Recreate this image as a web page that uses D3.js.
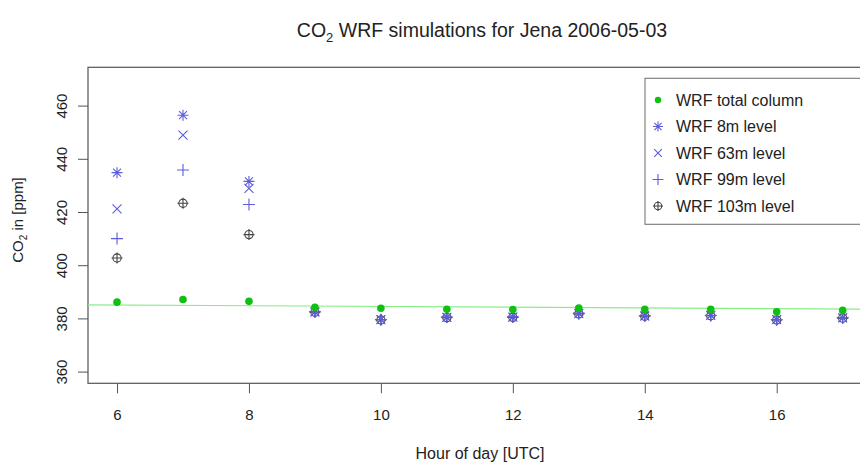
<!DOCTYPE html>
<html>
<head>
<meta charset="utf-8">
<script src="https://cdn.jsdelivr.net/npm/d3@7"></script>
<style>
  body { margin: 0; background: #fff; }
  svg { display: block; }
  text { font-family: "Liberation Sans", Arial, sans-serif; fill: #222; }
</style>
</head>
<body>
<svg id="chart" width="860" height="464"></svg>
<script>
// ---- data ----
const hours = [6, 7, 8, 9, 10, 11, 12, 13, 14, 15, 16, 17];
const totalColumn = [386.1, 387.1, 386.4, 384.2, 383.8, 383.4, 383.3, 383.9, 383.4, 383.4, 382.5, 383.0];
const level8m   = [434.8, 456.4, 431.5, 382.6, 379.6, 380.5, 380.6, 382.0, 381.1, 381.2, 379.6, 380.3];
const level63m  = [421.2, 448.9, 428.9, 382.4, 379.5, 380.4, 380.5, 381.8, 380.9, 381.1, 379.5, 380.2];
const level99m  = [410.0, 435.8, 422.8, 382.5, 379.6, 380.5, 380.5, 381.9, 381.0, 381.1, 379.5, 380.3];
const level103m = [402.7, 423.3, 411.5, 382.3, 379.4, 380.3, 380.4, 381.7, 380.8, 381.0, 379.4, 380.1];
const fitHours  = [5.56, 17.44];
const fitValues = [385.1, 383.45];
const xTicks = [6, 8, 10, 12, 14, 16];
const yTicks = [360, 380, 400, 420, 440, 460];
const legendLabels = ["WRF total column", "WRF 8m level", "WRF 63m level", "WRF 99m level", "WRF 103m level"];

(function () {
// ---- layout ----
const svg = d3.select("#chart");
const pLeft = 88, pRight = 871.7, pTop = 67.3, pBottom = 383.3;
const x = d3.scaleLinear().domain([5.56, 17.44]).range([pLeft, pRight]);
const y = d3.scaleLinear().domain([355.6, 474.4]).range([pBottom, pTop]);

const blue = "#5c5cdc";
const green = "#10c010";
const grey = "#444";

// clip
svg.append("defs").append("clipPath").attr("id", "clip")
  .append("rect").attr("x", pLeft).attr("y", pTop).attr("width", pRight - pLeft).attr("height", pBottom - pTop);

// title
const title = svg.append("text").attr("x", 482).attr("y", 37).attr("text-anchor", "middle").style("font-size", "19.5px");
title.append("tspan").text("CO");
title.append("tspan").text("2").style("font-size", "13px").attr("dy", 5);
title.append("tspan").text(" WRF simulations for Jena 2006-05-03").attr("dy", -5);

// axes
const xAxis = d3.axisBottom(x).tickValues(xTicks).tickSize(10).tickPadding(16).tickFormat(d3.format("d"));
const gx = svg.append("g").attr("transform", `translate(0,${pBottom})`).call(xAxis);
gx.select(".domain").remove();
gx.selectAll(".tick line").attr("stroke", "#555");
gx.selectAll(".tick text").style("font-size", "15px").attr("fill", "#222");

const yAxis = d3.axisLeft(y).tickValues(yTicks).tickSize(10).tickFormat(d3.format("d"));
const gy = svg.append("g").attr("transform", `translate(${pLeft},0)`).call(yAxis);
gy.select(".domain").remove();
gy.selectAll(".tick line").attr("stroke", "#555");
gy.selectAll(".tick text")
  .style("font-size", "15px").attr("fill", "#222")
  .attr("text-anchor", "middle")
  .attr("x", 0).attr("dy", 0)
  .attr("transform", "translate(-25,0) rotate(-90)")
  .attr("y", 4);

// box
svg.append("rect").attr("x", pLeft).attr("y", pTop).attr("width", pRight - pLeft).attr("height", pBottom - pTop)
  .attr("fill", "none").attr("stroke", "#555").attr("stroke-width", 1.2);

// axis labels
svg.append("text").attr("x", 480).attr("y", 459).attr("text-anchor", "middle").style("font-size", "16px").text("Hour of day [UTC]");
const ylab = svg.append("text").attr("transform", "translate(23,220) rotate(-90)").attr("text-anchor", "middle").style("font-size", "15px");
ylab.append("tspan").text("CO");
ylab.append("tspan").text("2").style("font-size", "10px").attr("dy", 4);
ylab.append("tspan").text(" in [ppm]").attr("dy", -4);

const plot = svg.append("g").attr("clip-path", "url(#clip)");

// fit line
plot.append("path")
  .datum(fitHours.map((h, i) => [h, fitValues[i]]))
  .attr("d", d3.line().x(d => x(d[0])).y(d => y(d[1])))
  .attr("stroke", "#88ee88").attr("stroke-width", 1.2).attr("fill", "none");

// symbol drawers
function star(g, cx, cy, s, col) {
  const p = d3.path();
  p.moveTo(cx - s, cy); p.lineTo(cx + s, cy);
  p.moveTo(cx, cy - s); p.lineTo(cx, cy + s);
  const d = s * 0.72;
  p.moveTo(cx - d, cy - d); p.lineTo(cx + d, cy + d);
  p.moveTo(cx - d, cy + d); p.lineTo(cx + d, cy - d);
  g.append("path").attr("d", p.toString()).attr("stroke", col).attr("stroke-width", 1.1).attr("fill", "none");
}
function cross(g, cx, cy, s, col) {
  const p = d3.path();
  p.moveTo(cx - s, cy - s); p.lineTo(cx + s, cy + s);
  p.moveTo(cx - s, cy + s); p.lineTo(cx + s, cy - s);
  g.append("path").attr("d", p.toString()).attr("stroke", col).attr("stroke-width", 1.1).attr("fill", "none");
}
function plus(g, cx, cy, s, col) {
  const p = d3.path();
  p.moveTo(cx - s, cy); p.lineTo(cx + s, cy);
  p.moveTo(cx, cy - s); p.lineTo(cx, cy + s);
  g.append("path").attr("d", p.toString()).attr("stroke", col).attr("stroke-width", 1.1).attr("fill", "none");
}
function diamondPlus(g, cx, cy, s, col) {
  g.append("circle").attr("cx", cx).attr("cy", cy).attr("r", s * 0.75)
    .attr("stroke", col).attr("stroke-width", 1.1).attr("fill", "none");
  plus(g, cx, cy, s, col);
}
function dot(g, cx, cy, s, col) {
  g.append("circle").attr("cx", cx).attr("cy", cy).attr("r", s).attr("fill", col);
}

// points
const pts = plot.append("g");
hours.forEach((h, i) => {
  diamondPlus(pts, x(h), y(level103m[i]), 5.5, grey);
  plus(pts, x(h), y(level99m[i]), 6, blue);
  cross(pts, x(h), y(level63m[i]), 4.5, blue);
  star(pts, x(h), y(level8m[i]), 5.5, blue);
  dot(pts, x(h), y(totalColumn[i]), 3.8, green);
});

// legend
const lg = svg.append("g");
lg.append("rect").attr("x", 645).attr("y", 78.3).attr("width", 230).attr("height", 146)
  .attr("fill", "#fff").attr("stroke", "#777").attr("stroke-width", 1.1);
const drawers = [
  (g, cx, cy) => dot(g, cx, cy, 3.2, green),
  (g, cx, cy) => star(g, cx, cy, 5, blue),
  (g, cx, cy) => cross(g, cx, cy, 3.8, blue),
  (g, cx, cy) => plus(g, cx, cy, 5.5, blue),
  (g, cx, cy) => diamondPlus(g, cx, cy, 5, grey)
];
legendLabels.forEach((lab, i) => {
  const cy = 100 + i * 26.5;
  drawers[i](lg, 658, cy);
  lg.append("text").attr("x", 676).attr("y", cy + 5.5).style("font-size", "16px").text(lab);
});
})();
</script>
</body>
</html>
